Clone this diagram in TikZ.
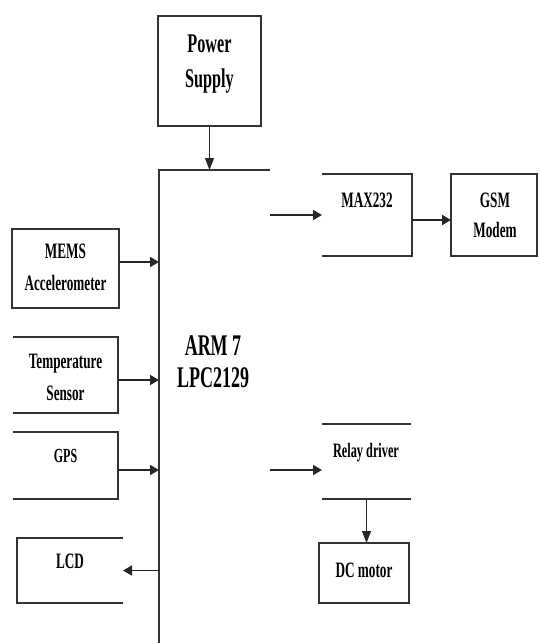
\documentclass[tikz,border=0pt]{standalone}
\usepackage{fontspec}
\setmainfont{Liberation Serif}[FakeStretch=0.6]
\usetikzlibrary{arrows.meta}

\tikzset{
  blk/.style={inner sep=0pt, outer sep=0pt},
  frame/.style={line width=1.5pt, black!80},
  lbl/.style={inner sep=0pt, align=center, font=\bfseries\fontsize{22}{32}\selectfont},
  arr/.style={line width=1.8pt, black!85, -{Triangle[length=9pt,width=10pt]}},
  thinarr/.style={line width=1.1pt, black!85, -{Triangle[length=12pt,width=9pt]}}
}

\begin{document}
\begin{tikzpicture}[x=1pt,y=-1pt]
    \useasboundingbox (0,0) rectangle (539,643);

    % Power supply
    \node[blk, minimum width=103pt, minimum height=110pt, draw, frame] (power) at (209.5,71) {};
    \node[lbl, anchor=base, font=\bfseries\fontsize{27}{35}\selectfont] (powert) at (209.5,87) {Power\\Supply};

    % Controller (open frame)
    \node[blk, minimum width=111pt, minimum height=473pt] (armbox) at (214.5,406.5) {};
    \draw[frame] (armbox.north east) -- (armbox.north west) -- (armbox.south west);
    \node[lbl, anchor=base, font=\bfseries\fontsize{30}{32}\selectfont] (arm) at (213,387) {ARM 7\\LPC2129};

    % Sensors on the left
    \node[blk, minimum width=107pt, minimum height=79pt, draw, frame] (mems) at (65.5,268.5) {};
    \node[lbl, anchor=base] (memst) at (65.5,290) {MEMS\\Accelerometer};

    \node[blk, minimum width=105pt, minimum height=76pt] (temp) at (65.5,375) {};
    \draw[frame] (temp.north west) -- (temp.north east) -- (temp.south east) -- (temp.south west);
    \node[lbl, anchor=base] (tempt) at (65.5,400) {Temperature\\Sensor};

    \node[blk, minimum width=105pt, minimum height=67pt] (gps) at (65.5,465.5) {};
    \draw[frame] (gps.north west) -- (gps.north east) -- (gps.south east) -- (gps.south west);
    \node[lbl, anchor=base, font=\bfseries\fontsize{20}{24}\selectfont] (gpst) at (65.5,462) {GPS};

    \node[blk, minimum width=106pt, minimum height=65pt] (lcd) at (70,570.5) {};
    \draw[frame] (lcd.north east) -- (lcd.north west) -- (lcd.south west) -- (lcd.south east);
    \node[lbl, anchor=base] (lcdt) at (70,568) {LCD};

    % Outputs on the right
    \node[blk, minimum width=90pt, minimum height=82pt] (max) at (367,215) {};
    \draw[frame] (max.north west) -- (max.north east) -- (max.south east) -- (max.south west);
    \node[lbl, anchor=base, font=\bfseries\fontsize{22}{24}\selectfont] (maxt) at (367,207) {MAX232};

    \node[blk, minimum width=86pt, minimum height=82pt, draw, frame] (gsm) at (494,215) {};
    \node[lbl, anchor=base, font=\bfseries\fontsize{22}{30}\selectfont] (gsmt) at (495,237) {GSM\\Modem};

    \node[blk, minimum width=89pt, minimum height=75pt] (relay) at (366.5,461.5) {};
    \draw[frame] (relay.north west) -- (relay.north east);
    \draw[frame] (relay.south west) -- (relay.south east);
    \node[lbl, anchor=base, font=\bfseries\fontsize{20.5}{22}\selectfont] (relayt) at (366,457) {Relay driver};

    \node[blk, minimum width=90pt, minimum height=60pt, draw, frame] (dc) at (364,573) {};
    \node[lbl, anchor=base] (dct) at (364,577) {DC motor};

    % Arrows
    \draw[thinarr] (power.south) -- (power.south |- armbox.north);
    \draw[arr] ([yshift=6.5pt]mems.east) -- ([yshift=6.5pt]mems.east -| armbox.west);
    \draw[arr] ([yshift=-5pt]temp.east) -- ([yshift=-5pt]temp.east -| armbox.west);
    \draw[arr] ([yshift=-4.5pt]gps.east) -- ([yshift=-4.5pt]gps.east -| armbox.west);
    \draw[arr] (lcd.east -| armbox.west) -- (lcd.east);
    \draw[arr] (max.west -| armbox.east) -- (max.west);
    \draw[arr] ([yshift=-5pt]max.east) -- ([yshift=-5pt]gsm.west);
    \draw[arr] ([yshift=-8.5pt]relay.west -| armbox.east) -- ([yshift=-8.5pt]relay.west);
    \draw[thinarr] (relay.south) -- (relay.south |- dc.north);
\end{tikzpicture}
\end{document}
